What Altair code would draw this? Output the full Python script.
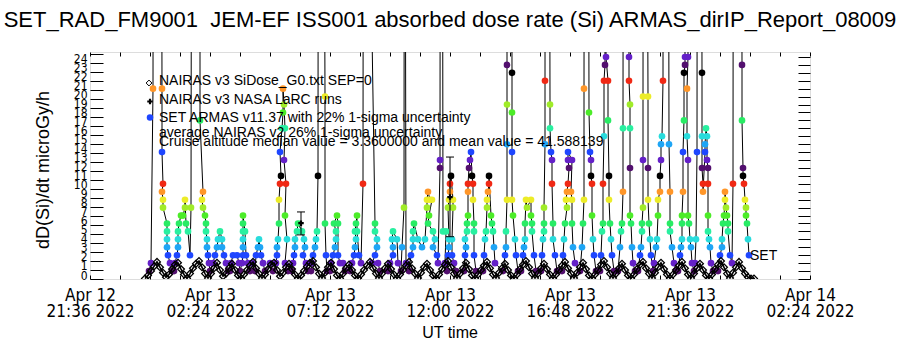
import altair as alt
import pandas as pd
import numpy as np

# ---------------- data ----------------
# ARMAS readings: hours after Apr 12 21:36 UT and reading level (99 = off scale)
armas_hours = [
    2.36, 2.44, 2.52, 2.54,
    2.84, 2.88, 2.88, 2.92, 2.88, 2.92, 2.92, 3.08, 3.08, 3.08, 3.08, 3.12, 3.20, 3.28,
    3.36, 3.40, 3.48, 3.52, 3.52, 3.52, 3.56, 3.64, 3.72, 3.80, 3.80, 3.84, 3.92, 4.00, 4.04, 4.08,
    4.40, 4.40, 4.52, 4.48, 4.52, 4.60, 4.64, 4.64, 4.68, 4.68, 4.72, 4.76, 4.80,
    4.92, 5.00, 5.08, 5.12, 5.20, 5.28, 5.28, 5.36, 5.44, 5.52,
    5.60, 5.64, 5.72, 5.88, 5.96, 6.00,
    6.08, 6.12, 6.12, 6.12, 6.12, 6.12, 6.12, 6.20, 6.24, 6.32, 6.40,
    6.48, 6.60, 6.64, 6.72, 6.76, 6.80, 6.84, 6.92, 7.00,
    7.20, 7.32, 7.44,
    7.48, 7.48, 7.52, 7.56, 7.56, 7.60, 7.64, 7.60, 7.68, 7.72, 7.72, 7.76, 7.80, 7.76, 7.84, 7.80, 7.88, 7.80, 7.92,
    8.08, 8.12, 8.16, 8.20, 8.20, 8.28, 8.32, 8.48, 8.56, 8.60, 8.52, 8.64, 8.72,
    8.84, 8.88, 8.92, 9.00, 9.04, 9.08, 9.12, 9.14,
    9.32, 9.40, 9.40, 9.44, 9.48,
    9.60, 9.64, 9.72, 9.80, 9.84, 9.84, 9.76, 9.88, 9.92, 9.92, 10.00, 10.12, 10.20,
    10.40, 10.48, 10.56, 10.60, 10.64, 10.60, 10.64, 10.68, 10.68, 10.76, 10.84, 10.92, 10.94,
    11.40, 11.40, 11.48, 11.48, 11.40, 11.28, 11.52, 11.60,
    11.92, 12.00, 12.12, 12.12, 12.08, 12.12, 12.28, 12.32,
    12.44, 12.48, 12.56, 12.58,
    12.64, 12.76, 12.84, 12.92, 12.92, 12.92, 12.96, 13.12, 13.28, 13.40, 13.48, 13.48, 13.52,
    13.60, 13.68, 13.56, 13.52, 13.72, 13.80, 13.72, 13.88, 13.92, 14.00, 14.00, 14.02,
    14.08, 14.12, 14.24, 14.20, 14.28,
    14.32, 14.36, 14.36, 14.32, 14.36, 14.40, 14.40, 14.44, 14.52, 14.52, 14.48, 14.48, 14.56, 14.64,
    14.96, 15.00, 15.04, 15.00, 15.08, 15.08, 15.12, 15.12, 15.12, 15.16, 15.20, 15.24, 15.28, 15.32,
    15.32, 15.36, 15.36, 15.36, 15.44,
    15.72, 15.76, 15.80, 15.84, 15.88, 15.88, 15.92, 15.96, 15.96, 16.04, 16.08, 16.12, 16.16, 16.20,
    16.52, 16.60, 16.64, 16.64, 16.68, 16.68, 16.68, 16.68, 16.70, 16.84, 16.88, 16.88, 16.88, 16.88,
    16.92, 17.00, 17.04, 17.12,
    17.24, 17.32, 17.36, 17.40, 17.40, 17.44, 17.48, 17.64, 17.64, 17.68, 17.68, 17.76, 17.84,
    18.04, 18.08, 18.12, 18.16, 18.16, 18.16, 18.20, 18.20, 18.22, 18.36, 18.40, 18.40, 18.44, 18.48,
    18.48, 18.52, 18.52, 18.60, 18.68,
    18.88, 18.92, 18.96, 19.00, 19.08, 19.04, 19.08, 19.12, 19.16, 19.12, 19.12, 19.28, 19.24, 19.28,
    19.28, 19.32, 19.40,
    19.60, 19.68, 19.72, 19.76, 19.76, 19.78, 19.92, 19.96, 20.00, 20.04, 20.04, 20.08, 20.08, 20.12,
    20.16, 20.24,
    20.40, 20.44, 20.48, 20.52, 20.52, 20.56, 20.56, 20.60, 20.62, 20.68, 20.64, 20.72, 20.72, 20.76,
    20.76, 20.80, 20.84, 20.88, 20.96,
    21.12, 21.20, 21.24, 21.28, 21.32, 21.32, 21.34, 21.52, 21.56, 21.56, 21.60, 21.60, 21.60, 21.60,
    21.64, 21.68, 21.72, 21.80,
    21.92, 22.00, 22.04, 22.08, 22.08, 22.12, 22.12, 22.12, 22.14, 22.24, 22.32, 22.32, 22.32, 22.36,
    22.40, 22.44, 22.52,
    22.56, 22.64, 22.68, 22.72, 22.72, 22.80, 22.80, 22.84, 22.84, 22.88, 22.92, 22.94, 23.12, 23.16,
    23.20, 23.20, 23.20, 23.28, 23.36, 23.44,
    23.52, 23.60, 23.64, 23.68, 23.68, 23.68, 23.72, 23.72, 23.76, 23.76, 23.80, 23.80, 23.82, 23.88,
    23.92, 23.88, 23.88, 23.92, 23.92, 23.96, 24.00, 24.04, 24.08, 24.16,
    24.20, 24.24, 24.28, 24.30, 24.44, 24.48, 24.48, 24.48, 24.52, 24.52, 24.60, 24.60, 24.64, 24.68,
    24.68, 24.72, 24.72, 24.72, 24.72, 24.76, 24.80, 24.84, 24.92,
    25.12, 25.20, 25.28, 25.28, 25.32, 25.36, 25.40, 25.40, 25.44, 25.48, 25.52, 25.52, 25.60, 25.68,
    25.72, 25.74,
    26.04, 26.08, 26.08, 26.12, 26.12, 26.16, 26.20, 26.24, 26.24, 26.28, 26.32, 26.36,
]
armas_level = [
    1, 2, 24, 99,
    99, 24, 16, 12, 11, 10, 9, 7, 6, 5, 4, 3, 2, 1,
    1, 2, 3, 4, 5, 6, 7, 8, 8, 9, 10, 7, 6, 3, 9, 99,
    99, 20, 11, 10, 9, 8, 7, 6, 5, 4, 3, 2, 1,
    2, 3, 4, 5, 6, 5, 4, 3, 2, 1,
    1, 2, 3, 3, 2, 1,
    2, 3, 4, 5, 6, 7, 8, 6, 3, 2, 1,
    2, 1, 3, 4, 5, 4, 3, 2, 1,
    2, 1, 2,
    3, 4, 5, 7, 10, 12, 13, 16, 19, 21, 24, 22, 19, 15, 12, 8, 5, 2, 1,
    1, 2, 3, 4, 5, 6, 7, 6, 5, 4, 3, 2, 1,
    1, 2, 3, 4, 5, 6, 13, 99,
    99, 23, 7, 3, 1,
    1, 2, 3, 4, 5, 6, 7, 8, 7, 3, 2, 2, 1,
    1, 2, 3, 4, 5, 6, 7, 8, 6, 3, 2, 12, 99,
    7, 6, 5, 4, 3, 2, 2, 1,
    1, 2, 3, 4, 5, 6, 5, 2,
    1, 4, 9, 99,
    2, 1, 3, 4, 5, 6, 7, 5, 4, 5, 9, 10, 11,
    10, 10, 8, 7, 6, 5, 4, 3, 2, 14, 15, 99,
    99, 6, 6, 2, 1,
    3, 4, 5, 9, 10, 11, 12, 13, 10, 9, 5, 3, 2, 1,
    1, 3, 4, 5, 6, 7, 8, 11, 12, 14, 15, 16, 13, 12,
    10, 7, 6, 3, 1,
    1, 3, 5, 6, 9, 10, 11, 12, 13, 8, 7, 6, 4, 2,
    1, 3, 4, 6, 10, 17, 22, 27, 99, 99, 26, 21, 16, 10,
    8, 5, 3, 1,
    1, 3, 4, 5, 7, 10, 9, 10, 8, 7, 6, 3, 1,
    1, 3, 5, 6, 7, 9, 17, 25, 99, 99, 22, 19, 16, 15,
    12, 7, 5, 3, 1,
    1, 3, 5, 7, 9, 10, 11, 12, 14, 15, 16, 15, 11, 10,
    7, 4, 2,
    1, 4, 7, 10, 24, 99, 99, 21, 16, 15, 13, 12, 8, 5,
    3, 1,
    1, 3, 6, 7, 12, 18, 25, 27, 99, 99, 28, 25, 20, 13,
    10, 7, 5, 3, 1,
    1, 4, 6, 7, 11, 19, 99, 99, 28, 25, 22, 19, 14, 8,
    7, 4, 2, 1,
    1, 3, 4, 6, 7, 9, 15, 23, 99, 99, 23, 14, 10, 7,
    5, 3, 1,
    2, 4, 5, 8, 10, 11, 13, 15, 17, 18, 25, 99, 99, 17,
    11, 7, 6, 4, 2, 1,
    1, 3, 4, 5, 7, 8, 11, 16, 20, 26, 27, 28, 99, 99,
    28, 24, 18, 15, 8, 7, 5, 4, 2, 1,
    2, 5, 16, 99, 99, 26, 18, 14, 12, 11, 16, 17, 19, 18,
    15, 14, 12, 8, 6, 5, 4, 2, 1,
    1, 3, 4, 5, 7, 8, 10, 11, 9, 8, 7, 6, 3, 2,
    12, 99,
    99, 27, 20, 14, 13, 12, 10, 9, 8, 7, 5, 3,
]
assert len(armas_hours) == len(armas_level), (len(armas_hours), len(armas_level))

# NAIRAS v3 model dose rate, one value per 0.12 h from 2.2 h after start
nairas_values = [
    0.05, 0.4, 0.9, 1.4, 1.9, 1.3, 0.7, 0.2, 0.5, 1.1, 1.6, 1.8, 1.1, 0.5, 0.05,
    0.6, 1.2, 1.7, 2.0, 1.3, 0.6, 0.1, 0.6, 1.2, 1.8, 1.0, 0.3, 0.6, 1.2, 1.7,
    1.0, 0.4, 0.05, 0.5, 1.0, 1.5, 1.9, 1.2, 0.6, 0.1, 0.5, 1.1, 1.6, 1.8, 1.0,
    0.3, 0.7, 1.3, 1.7, 1.1, 0.5, 0.05, 0.4, 0.9, 1.4, 1.8, 2.0, 1.3, 0.6, 0.1,
    0.7, 1.3, 1.8, 1.1, 0.4, 0.05, 0.6, 1.2, 1.6, 1.0, 0.4, 0.05, 0.5, 1.0, 1.5,
    1.9, 1.2, 0.6, 0.1, 0.6, 1.2, 1.7, 1.1, 0.5, 0.05, 0.5, 1.0, 1.5, 1.9, 1.2,
    0.6, 0.1, 0.7, 1.3, 1.7, 1.0, 0.4, 0.05, 0.5, 1.1, 1.6, 2.0, 1.3, 0.6, 0.1,
    0.6, 1.2, 1.8, 1.1, 0.4, 0.05, 0.5, 1.0, 1.5, 1.9, 1.2, 0.5, 0.1, 0.7, 1.2,
    1.7, 1.0, 0.4, 0.05, 0.5, 1.1, 1.6, 2.0, 1.3, 0.6, 0.1, 0.6, 1.2, 1.7, 1.1,
    0.5, 0.05, 0.5, 1.0, 1.5, 1.9, 1.2, 0.6, 0.1, 0.7, 1.3, 1.8, 1.1, 0.4, 0.05,
    0.5, 1.0, 1.6, 2.0, 1.3, 0.6, 0.1, 0.6, 1.2, 1.7, 1.0, 0.4, 0.05, 0.5, 1.1,
    1.6, 1.9, 1.2, 0.6, 0.1, 0.7, 1.3, 1.8, 1.1, 0.5, 0.05, 0.5, 1.0, 1.5, 1.9,
    1.2, 0.5, 0.1, 0.6, 1.2, 1.7, 1.0, 0.4, 0.05, 0.5, 1.1, 1.6, 2.0, 1.3, 0.6,
    0.1, 0.7, 1.3, 1.9, 1.2, 0.6, 0.2, 0.05, 0.05,
]
nairas_start_h = 2.2
nairas_step_h = 0.12

# NAIRAS v3 NASA LaRC runs with uncertainty bars
larc_hours = [8.44, 14.40]
larc_mid = [6.2, 9.1]
larc_low = [4.9, 4.7]
larc_high = [7.45, 13.55]

LEVEL = 0.881  # dose-rate step of the ARMAS readings (microGy/h)
level_colors = ["#520f6e", "#6420c8", "#1e46ff", "#1ea5f5", "#28dcdc", "#28f0a0",
                "#28ec64", "#4cec28", "#a0ec28", "#ecec28", "#ff9628", "#f02814", "#000000"]

TITLE = "SET_RAD_FM9001\u00a0\u00a0JEM-EF ISS001 absorbed dose rate (Si) ARMAS_dirIP_Report_08009"
legend_lines = [
    "NAIRAS v3 SiDose_G0.txt SEP=0",
    "NAIRAS v3 NASA LaRC runs",
    "SET ARMAS v11.37 with 22% 1-sigma uncertainty",
    "average NAIRAS v2 26% 1-sigma uncertainty",
    "Cruise altitude median value = 3.3600000 and mean value = 41.588139",
]
Y_TITLE = "dD(Si)/dt microGy/h"
X_TITLE = "UT time"

# ---------------- frames ----------------
START_MS = int(pd.Timestamp("2022-04-12 21:36", tz="UTC").value // 10**6)
MIN_MS = 60000
HOUR_MS = 60 * MIN_MS
END_MS = START_MS + 1728 * MIN_MS

df_armas = pd.DataFrame({
    "t": [START_MS + h * HOUR_MS for h in armas_hours],
    "value": [k * LEVEL for k in armas_level],
    "color": [level_colors[(k - 1) % 13] for k in armas_level],
    "idx": list(range(len(armas_level))),
})
df_nairas = pd.DataFrame({
    "t": [START_MS + (nairas_start_h + i * nairas_step_h) * HOUR_MS for i in range(len(nairas_values))],
    "value": nairas_values,
})
df_larc = pd.DataFrame({
    "t": [START_MS + h * HOUR_MS for h in larc_hours],
    "mid": larc_mid, "low": larc_low, "high": larc_high,
})

x_ticks = [START_MS + i * 72 * MIN_MS for i in range(25)]
y_left_ticks = [i * 0.5 for i in range(51)]
y_right_ticks = [k * LEVEL for k in range(29)]

FN = "Liberation Sans Narrow, DejaVu Sans Condensed, Liberation Sans, sans-serif"
FR = "Liberation Sans, DejaVu Sans, sans-serif"

xscale = alt.Scale(type="utc", domain=[START_MS, END_MS], nice=False)
yscale = alt.Scale(domain=[0, 25.22], nice=False, zero=False)

label_expr = (f"(datum.value - {START_MS}) % {288 * MIN_MS} == 0 ? "
              "[utcFormat(datum.value, '%b %d'), utcFormat(datum.value, '%H:%M %Y')] : ''")

x_bottom = alt.Axis(orient="bottom", values=x_ticks, offset=-4, tickSize=4, tickColor="black",
                    domain=False, grid=False, labelExpr=label_expr, labelFont=FN, labelFontSize=17,
                    labelColor="black", labelPadding=8, labelLineHeight=16, labelBaseline="top",
                    labelFlush=False, labelOverlap=False, title=None)
x_top = alt.Axis(orient="top", values=x_ticks, offset=-4, tickSize=4, tickColor="black",
                 domain=False, grid=False, labels=False, title=None)
y_left = alt.Axis(orient="left", values=y_left_ticks, offset=-13, tickSize=13, tickColor="black",
                  domain=False, grid=False, format="d",
                  labelExpr="(datum.value % 1 == 0 && datum.value <= 24) ? datum.label : ''",
                  labelFont=FN, labelFontSize=12, labelColor="black", labelPadding=3,
                  labelBaseline="alphabetic", labelOverlap=False, labelFlush=False, title=None)
y_right = alt.Axis(orient="right", values=y_right_ticks, offset=-12, tickSize=12, tickColor="black",
                   domain=False, grid=False, labels=False, title=None)


def X(field="t", axis=None):
    return alt.X(f"{field}:T", scale=xscale, axis=axis)


def Y(field="value", axis=None):
    return alt.Y(f"{field}:Q", scale=yscale, axis=axis)


armas_line = alt.Chart(df_armas).mark_line(color="black", strokeWidth=1, clip=True).encode(
    x=X(axis=x_bottom), y=Y(axis=y_left), order="idx:Q")
armas_dots = alt.Chart(df_armas).mark_circle(size=44, opacity=1, clip=True).encode(
    x=X(), y=Y(), color=alt.Color("color:N", scale=None))
nairas_line = alt.Chart(df_nairas).mark_line(color="black", strokeWidth=1.6, clip=True).encode(
    x=X(), y=Y())
nairas_pts = alt.Chart(df_nairas).mark_point(shape="diamond", filled=False, size=46, color="black",
                                             strokeWidth=1.3, opacity=1, clip=True).encode(x=X(), y=Y())
larc_bar = alt.Chart(df_larc).mark_rule(color="black", strokeWidth=1).encode(
    x=X(), y=Y("low"), y2="high:Q")
larc_cap_hi = alt.Chart(df_larc).mark_tick(color="black", orient="horizontal", size=8,
                                           thickness=1, opacity=1).encode(x=X(), y=Y("high"))
larc_cap_lo = alt.Chart(df_larc).mark_tick(color="black", orient="horizontal", size=8,
                                           thickness=1, opacity=1).encode(x=X(), y=Y("low"))
larc_pt = alt.Chart(df_larc).mark_point(shape="cross", filled=True, size=30, color="black",
                                        opacity=1).encode(x=X(), y=Y("mid"))
axes2 = alt.Chart(df_armas).mark_point(opacity=0).encode(x=X(axis=x_top), y=Y(axis=y_right))


def text(s, x, y, size, align="left", angle=0, font=FR):
    return alt.Chart(pd.DataFrame({"s": [s]})).mark_text(
        align=align, baseline="middle", font=font, fontSize=size, color="black", angle=angle
    ).encode(x=alt.value(x), y=alt.value(y), text="s:N")


one = pd.DataFrame({"a": [0]})
sym_diamond = alt.Chart(one).mark_point(shape="diamond", filled=False, size=34, color="black",
                                        strokeWidth=1, opacity=1).encode(x=alt.value(59), y=alt.value(31))
sym_cross = alt.Chart(one).mark_point(shape="cross", filled=True, size=30, color="black",
                                      opacity=1).encode(x=alt.value(60), y=alt.value(49.5))
sym_dot = alt.Chart(one).mark_circle(size=42, color="#1e46ff", opacity=1).encode(
    x=alt.value(60), y=alt.value(65.5))

layers = [
    armas_line, armas_dots, nairas_line, nairas_pts, larc_bar, larc_cap_hi, larc_cap_lo, larc_pt,
    axes2, sym_diamond, sym_cross, sym_dot,
    text(legend_lines[0], 69, 29, 14),
    text(legend_lines[1], 69, 47.5, 14),
    text(legend_lines[2], 69, 66, 14),
    text(legend_lines[3], 69, 81, 14),
    text(legend_lines[4], 69, 89.5, 14),
    text("SET", 660, 204, 14),
    text(TITLE, 360, -32, 22, align="center"),
    text(Y_TITLE, -46, 118, 18, align="center", angle=270),
    text(X_TITLE, 360, 281, 16, align="center"),
]

chart = alt.layer(*layers).resolve_axis(x="independent", y="independent").properties(
    width=720, height=227,
    autosize=alt.AutoSizeParams(type="none"),
    padding={"left": 90, "top": 52, "right": 90, "bottom": 71},
).configure_view(stroke="black", strokeWidth=1).configure(background="white")

chart.save("out.html", embed_options={"renderer": "svg", "actions": False})
